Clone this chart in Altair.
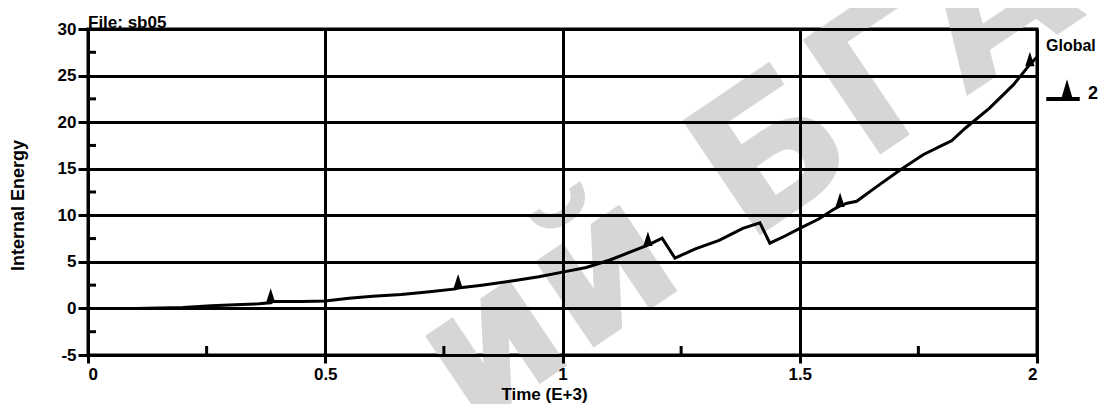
import altair as alt
import pandas as pd

# ---- data ----
time_k = [0.0, 0.10, 0.20, 0.26, 0.31, 0.36, 0.385, 0.39, 0.45, 0.50, 0.55, 0.60,
          0.66, 0.72, 0.775, 0.78, 0.83, 0.90, 0.95, 1.00, 1.05, 1.10, 1.15, 1.18,
          1.21, 1.237, 1.28, 1.33, 1.38, 1.416, 1.437, 1.47, 1.50, 1.54, 1.57,
          1.585, 1.60, 1.62, 1.66, 1.71, 1.76, 1.80, 1.82, 1.85, 1.90, 1.95, 1.985, 2.0]
energy = [0.0, 0.0, 0.1, 0.3, 0.4, 0.5, 0.6, 0.75, 0.75, 0.8, 1.1, 1.3,
          1.5, 1.8, 2.1, 2.2, 2.5, 3.0, 3.4, 3.9, 4.4, 5.2, 6.2, 6.8,
          7.55, 5.4, 6.4, 7.3, 8.6, 9.2, 7.0, 7.8, 8.6, 9.6, 10.6,
          11.0, 11.3, 11.5, 13.0, 14.8, 16.5, 17.5, 18.0, 19.4, 21.5, 24.0, 26.2, 27.0]

marker_time = [0.385, 0.78, 1.18, 1.585, 1.985]
marker_energy = [0.6, 2.15, 6.7, 10.9, 26.0]
marker_series = ["2"] * 5

y_major = [-5, 0, 5, 10, 15, 20, 25, 30]
y_minor = [-2.5, 2.5, 7.5, 12.5, 17.5, 22.5, 27.5]
x_major = [0, 0.5, 1, 1.5, 2]
x_minor = [0.25, 0.75, 1.25, 1.75]

file_label = ["File: sb05"]
watermark = ["ий БГАУ"]

W, H = 949, 326
FONT = "Liberation Sans, Arial, sans-serif"
TRI = "M -0.32 0 L 0 -1 L 0.32 0 Z"
LEG_SYM = "M -1 -0.06 L 0.6 -0.06 L 0.6 0.06 L -1 0.06 Z M -0.25 0 L 0 -0.85 L 0.25 0 Z"
PLAIN_LABEL = "datum.value < 0 ? '-' + format(-datum.value, '~g') : format(datum.value, '~g')"

line_df = pd.DataFrame({"t": time_k, "e": energy})
mark_df = pd.DataFrame({"t": marker_time, "e": marker_energy, "series": marker_series})
ymin_df = pd.DataFrame({"e": y_minor})
xmin_df = pd.DataFrame({"t": x_minor})
file_df = pd.DataFrame({"label": file_label})
wm_df = pd.DataFrame({"label": watermark})

xscale = alt.Scale(domain=[0, 2], nice=False, zero=False)
yscale = alt.Scale(domain=[-5, 30], nice=False, zero=False)

x_axis = alt.Axis(values=x_major, labelExpr=PLAIN_LABEL, grid=True, gridColor="black",
                  gridWidth=3, gridOpacity=1, domainColor="black", domainWidth=3,
                  tickColor="black", tickWidth=3, tickSize=8, labelFont=FONT,
                  labelFontSize=17, labelFontWeight="bold", labelColor="black",
                  labelPadding=3, title="Time (E+3)", titleFont=FONT, titleFontSize=17,
                  titleFontWeight="bold", titleColor="black", titleX=456, titleY=44,
                  titleAlign="center", titleBaseline="alphabetic", zindex=1)
y_axis = alt.Axis(values=y_major, labelExpr=PLAIN_LABEL, grid=True, gridColor="black",
                  gridWidth=3, gridOpacity=1, domainColor="black", domainWidth=3,
                  tickColor="black", tickWidth=3, tickSize=10, labelFont=FONT,
                  labelFontSize=17, labelFontWeight="bold", labelColor="black",
                  labelPadding=2, title="Internal Energy", titleFont=FONT,
                  titleFontSize=18, titleFontWeight="bold", titleColor="black",
                  titleX=-70, titleY=176, titleAngle=270, titleAlign="center",
                  titleBaseline="middle", zindex=1)

X = alt.X("t:Q", scale=xscale, axis=x_axis)
Y = alt.Y("e:Q", scale=yscale, axis=y_axis)

wm = alt.Chart(wm_df).mark_text(
    align="left", baseline="alphabetic", angle=326, fontSize=190, fontWeight="bold",
    font="DejaVu Sans", color="#d6d6d6"
).encode(text="label:N", x=alt.value(382), y=alt.value(402))

ymin = alt.Chart(ymin_df).mark_rule(color="black", strokeWidth=3).encode(
    y=Y, x=alt.value(0), x2=alt.value(8))

xmin = alt.Chart(xmin_df).mark_rule(color="black", strokeWidth=3).encode(
    x=X, y=alt.value(H), y2=alt.value(H - 9))

line = alt.Chart(line_df).mark_line(color="black", strokeWidth=3).encode(x=X, y=Y)

pts = alt.Chart(mark_df).mark_point(shape=TRI, filled=True, size=841, opacity=1,
                                    strokeWidth=1).encode(
    x=X, y=Y,
    color=alt.Color("series:N", scale=alt.Scale(domain=["2"], range=["black"]),
                    legend=alt.Legend(title="Global", orient="none", legendX=958,
                                      legendY=9, symbolType=LEG_SYM, symbolSize=1600,
                                      symbolFillColor="black", symbolStrokeColor="black",
                                      titleFont=FONT, titleFontSize=16,
                                      titleFontWeight="bold", titleColor="black",
                                      labelFont=FONT, labelFontSize=18,
                                      labelFontWeight="bold", labelColor="black",
                                      labelOffset=0, padding=0, titlePadding=24,
                                      labelBaseline="alphabetic")))

ftxt = alt.Chart(file_df).mark_text(
    align="left", baseline="alphabetic", fontSize=17, fontWeight="bold",
    font=FONT, color="black"
).encode(text="label:N", x=alt.value(0), y=alt.value(-1))

chart = alt.layer(wm, ymin, xmin, line, pts, ftxt).properties(
    width=W, height=H,
    autosize=alt.AutoSizeParams(type="none"),
    padding={"left": 80, "top": 21, "right": 62, "bottom": 49},
    background="white",
).configure_view(stroke="black", strokeWidth=3)

chart.save("out.html", embed_options={"renderer": "svg", "actions": False})
